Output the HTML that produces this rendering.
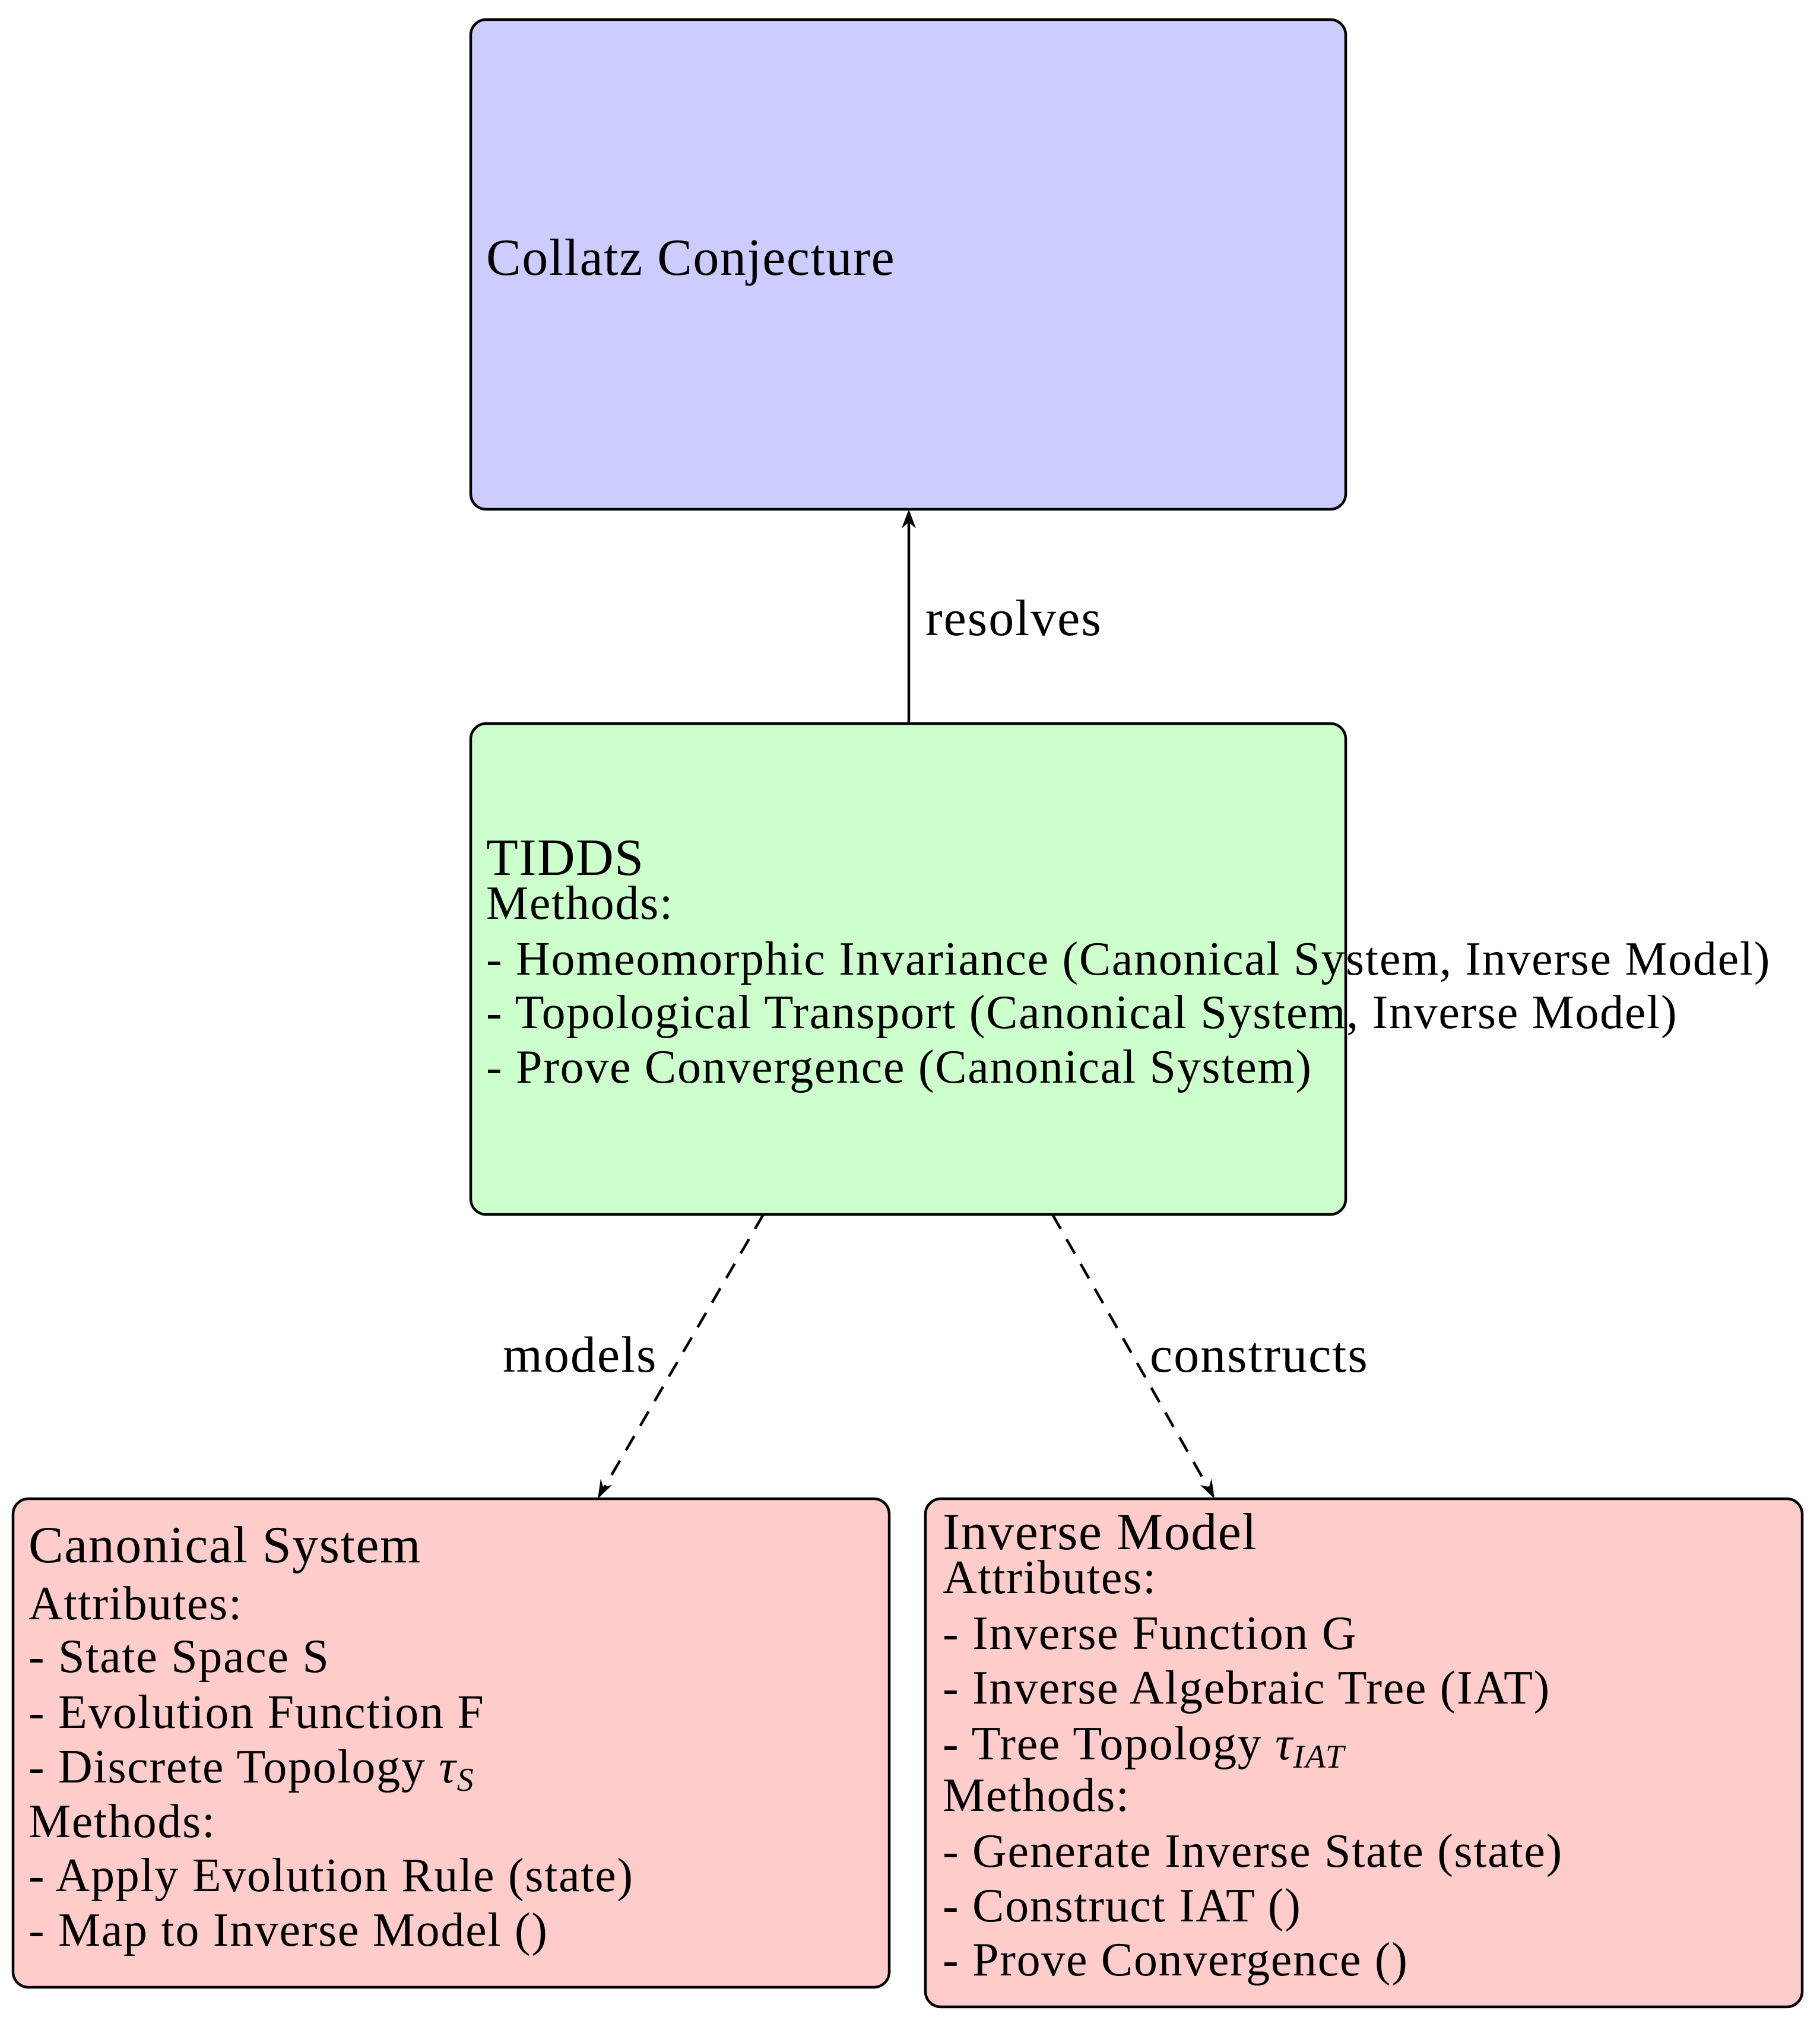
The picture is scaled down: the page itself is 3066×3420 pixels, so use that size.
<!DOCTYPE html>
<html><head><meta charset="utf-8"><style>html,body{margin:0;padding:0;background:#fff}svg{display:block}</style></head>
<body>
<svg width="3066" height="3420" viewBox="0 0 3066 3420" xmlns="http://www.w3.org/2000/svg" font-family="'Liberation Serif', serif" fill="#000">
<rect x="793" y="33" width="1474" height="825" rx="26" fill="#ccccff" stroke="#000" stroke-width="4.5"/>
<rect x="793" y="1219" width="1474" height="827" rx="26" fill="#ccffcc" stroke="#000" stroke-width="4.5"/>
<rect x="22" y="2525" width="1476" height="823" rx="26" fill="#ffcccc" stroke="#000" stroke-width="4.5"/>
<rect x="1559" y="2525" width="1477" height="856" rx="26" fill="#ffcccc" stroke="#000" stroke-width="4.5"/>

<line x1="1531" y1="1219" x2="1531" y2="866" stroke="#000" stroke-width="4.5"/>
<path d="M1531 858 L1519 890 L1531 880 L1543 890 Z" fill="#000"/>

<line x1="1286" y1="2046" x2="1011" y2="2518" stroke="#000" stroke-width="4.5" stroke-dasharray="28,20"/>
<path d="M1007 2525 L1012 2491 L1016 2505 L1031 2502 Z" fill="#000"/>
<line x1="1773" y1="2046" x2="2042" y2="2518" stroke="#000" stroke-width="4.5" stroke-dasharray="28,20"/>
<path d="M2046 2525 L2022 2502 L2037 2505 L2041 2491 Z" fill="#000"/>

<g font-size="86" letter-spacing="2">
<text x="1559" y="1070">resolves</text>
<text x="847" y="2311">models</text>
<text x="1937" y="2311">constructs</text>
</g>
<g font-size="88" letter-spacing="1.5">
<text x="819" y="463">Collatz Conjecture</text>
<text x="819" y="1474">TIDDS</text>
<text x="48" y="2632">Canonical System</text>
<text x="1588" y="2610">Inverse Model</text>
</g>
<g font-size="80" letter-spacing="1.7">
<text x="819" y="1548">Methods:</text>
<text x="819" y="1642">- Homeomorphic Invariance (Canonical System, Inverse Model)</text>
<text x="819" y="1732">- Topological Transport (Canonical System, Inverse Model)</text>
<text x="819" y="1824">- Prove Convergence (Canonical System)</text>

<text x="48" y="2728">Attributes:</text>
<text x="48" y="2817">- State Space S</text>
<text x="48" y="2911">- Evolution Function F</text>
<text x="48" y="3003">- Discrete Topology <tspan font-style="italic">τ</tspan><tspan font-style="italic" font-size="56" dy="14">S</tspan></text>
<text x="48" y="3095">Methods:</text>
<text x="48" y="3186">- Apply Evolution Rule (state)</text>
<text x="48" y="3278">- Map to Inverse Model ()</text>

<text x="1588" y="2684">Attributes:</text>
<text x="1588" y="2778">- Inverse Function G</text>
<text x="1588" y="2870">- Inverse Algebraic Tree (IAT)</text>
<text x="1588" y="2964">- Tree Topology <tspan font-style="italic">τ</tspan><tspan font-style="italic" font-size="56" dy="14">IAT</tspan></text>
<text x="1588" y="3051">Methods:</text>
<text x="1588" y="3145">- Generate Inverse State (state)</text>
<text x="1588" y="3237">- Construct IAT ()</text>
<text x="1588" y="3328">- Prove Convergence ()</text>
</g>
</svg>
</body></html>
